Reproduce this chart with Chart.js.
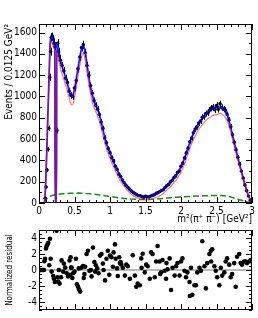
<!DOCTYPE html>
<html>
<head>
<meta charset="utf-8">
<script src="https://cdn.jsdelivr.net/npm/chart.js@4.4.1/dist/chart.umd.min.js"></script>
<style>
    html, body { margin: 0; padding: 0; background: #fff; }
    #wrap { position: relative; width: 258px; height: 318px; }
    canvas { position: absolute; left: 0; }
</style>
</head>
<body>
<div id="wrap">
    <canvas id="mainChart" width="258" height="226" style="top:0"></canvas>
    <canvas id="residChart" width="258" height="96" style="top:222px"></canvas>
</div>
<script>
// Data
const dataMass = [0.0875, 0.1, 0.1125, 0.125, 0.1375, 0.15, 0.1625, 0.175, 0.1875, 0.2, 0.2125, 0.225, 0.2525, 0.2625, 0.275, 0.2875, 0.3,
    0.325, 0.35, 0.375, 0.4, 0.425, 0.45, 0.475, 0.5, 0.525, 0.55, 0.575, 0.6, 0.625, 0.65, 0.675, 0.7, 0.725, 0.75, 0.775, 0.8,
    0.825, 0.85, 0.875, 0.9, 0.925, 0.95, 0.975, 1.0, 1.025, 1.05, 1.075, 1.1, 1.125, 1.15, 1.175, 1.2, 1.225, 1.25, 1.275, 1.3,
    1.325, 1.35, 1.375, 1.4, 1.425, 1.45, 1.475, 1.5, 1.525, 1.55, 1.575, 1.6, 1.625, 1.65, 1.675, 1.7, 1.725, 1.75, 1.775, 1.8,
    1.825, 1.85, 1.875, 1.9, 1.925, 1.95, 1.975, 2.0, 2.025, 2.05, 2.075, 2.1, 2.125, 2.15, 2.175, 2.2, 2.225, 2.25, 2.275, 2.3,
    2.325, 2.35, 2.375, 2.4, 2.425, 2.45, 2.475, 2.5, 2.525, 2.55, 2.575, 2.6, 2.625, 2.65, 2.675, 2.7, 2.725, 2.75, 2.775, 2.8,
    2.825, 2.85, 2.875, 2.9, 2.925, 2.95, 2.975];
const dataEvents = [45, 150, 310, 505, 700, 1180, 1420, 1555, 1560, 1540, 1500, 1470, 680, 1500, 1420, 1380, 1340,
    1290, 1240, 1170, 1130, 1050, 1010, 1000, 1080, 1150, 1260, 1370, 1460, 1485, 1410, 1290, 1200, 1100, 1030, 960, 915,
    880, 830, 760, 700, 610, 565, 510, 470, 425, 395, 345, 315, 270, 248, 215, 190, 165, 148, 130, 112,
    100, 88, 80, 70, 68, 60, 55, 62, 58, 57, 66, 72, 78, 90, 96, 108, 118, 125, 145, 162,
    175, 198, 212, 238, 255, 285, 300, 345, 375, 425, 470, 515, 575, 610, 660, 695, 715, 750, 770, 805,
    810, 840, 845, 870, 890, 900, 875, 915, 880, 930, 895, 880, 870, 830, 780, 715, 640, 570, 500, 430,
    365, 300, 235, 170, 115, 65, 25];

const fitMass = [0.075, 0.085, 0.1, 0.12, 0.14, 0.155, 0.165, 0.18, 0.195, 0.21, 0.224, 0.226, 0.247, 0.249, 0.27, 0.3,
    0.35, 0.4, 0.45, 0.47, 0.5, 0.55, 0.6, 0.62, 0.65, 0.68, 0.72, 0.76, 0.81, 0.855, 0.9, 0.95, 1.0,
    1.05, 1.1, 1.15, 1.2, 1.25, 1.3, 1.35, 1.4, 1.45, 1.5, 1.55, 1.6, 1.65, 1.7, 1.75, 1.8, 1.85, 1.9, 1.95, 2.0,
    2.05, 2.1, 2.15, 2.2, 2.25, 2.3, 2.35, 2.4, 2.45, 2.5, 2.55, 2.6, 2.65, 2.7, 2.75, 2.8, 2.85, 2.9, 2.95, 3.0];
const totalFit = [0, 60, 300, 720, 1150, 1470, 1565, 1560, 1540, 1510, 1490, 0, 0, 1500, 1440, 1340,
    1230, 1120, 1005, 1000, 1070, 1270, 1450, 1480, 1420, 1280, 1110, 990, 900, 820, 690, 560, 470,
    385, 310, 245, 190, 150, 115, 90, 72, 62, 58, 60, 70, 86, 105, 128, 160, 195, 235, 280, 340,
    420, 520, 615, 690, 745, 795, 835, 862, 882, 895, 900, 885, 830, 710, 570, 430, 300, 175, 70, 0];
const signalFit = [0, 55, 275, 680, 1100, 1420, 1515, 1505, 1480, 1450, 1425, 0, 0, 1430, 1370, 1270,
    1160, 1050, 930, 920, 990, 1195, 1375, 1405, 1345, 1210, 1045, 925, 840, 760, 635, 510, 420,
    340, 268, 205, 155, 115, 82, 60, 44, 35, 30, 31, 38, 52, 68, 90, 120, 152, 190, 232, 290,
    365, 465, 555, 630, 690, 735, 775, 800, 822, 830, 842, 822, 775, 662, 532, 402, 280, 164, 64, 0];
const bkgFit = [0, 5, 30, 50, 58, 63, 66, 68, 72, 75, 78, 78, 80, 80, 82, 84,
    87, 89, 91, 91, 92, 93, 92, 91, 90, 88, 86, 83, 79, 75, 71, 66, 61,
    56, 51, 47, 43, 40, 37, 35, 33, 32, 32, 33, 35, 37, 40, 43, 46, 49, 52, 55, 57,
    59, 61, 63, 65, 66, 67, 68, 69, 70, 70, 70, 68, 64, 56, 46, 36, 26, 16, 7, 0];

const resMass = [0.01, 0.025, 0.04, 0.055, 0.07, 0.075, 0.085, 0.098, 0.108, 0.12, 0.13, 0.145, 0.154, 0.164, 0.178,
    0.2, 0.21, 0.224, 0.248, 0.26, 0.27, 0.28, 0.29, 0.31, 0.318, 0.34, 0.35, 0.37, 0.39, 0.41, 0.43, 0.44, 0.445,
    0.45, 0.46, 0.47, 0.48, 0.5, 0.52, 0.535, 0.55, 0.56, 0.565, 0.58, 0.6, 0.62, 0.63, 0.64, 0.65, 0.67, 0.69,
    0.71, 0.73, 0.74, 0.76, 0.78, 0.79, 0.8, 0.82, 0.84, 0.86, 0.88, 0.9, 0.91, 0.93, 0.95, 0.97, 0.99, 1.0,
    1.02, 1.04, 1.05, 1.07, 1.08, 1.1, 1.11, 1.13, 1.14, 1.15, 1.16, 1.18, 1.21, 1.23, 1.25, 1.28, 1.32, 1.35,
    1.37, 1.39, 1.42, 1.44, 1.445, 1.46, 1.49, 1.51, 1.53, 1.56, 1.58, 1.6, 1.63, 1.65, 1.67, 1.7, 1.705, 1.72,
    1.74, 1.77, 1.79, 1.795, 1.81, 1.84, 1.86, 1.88, 1.91, 1.93, 1.95, 1.98, 2.0, 2.02, 2.05, 2.07, 2.09, 2.12,
    2.125, 2.14, 2.16, 2.19, 2.21, 2.23, 2.26, 2.28, 2.3, 2.33, 2.35, 2.37, 2.4, 2.42, 2.425, 2.44, 2.47, 2.49,
    2.51, 2.54, 2.56, 2.58, 2.61, 2.63, 2.65, 2.68, 2.7, 2.72, 2.75, 2.77, 2.79, 2.82, 2.84, 2.86, 2.89, 2.91,
    2.93, 2.96, 2.98];
const resValue = [0, 0, 0, 0, 0, 1.1, 1.4, 2.7, 3.0, 3.2, 3.4, 0.6, 3.9, 1.4, -0.2,
    -0.75, -1.1, -1.5, 4.9, -0.9, -1.45, 0.0, -1.7, -0.9, 1.2, -0.2, 0.8, 0.3, -0.4, -0.8, 1.2, -0.6, 1.6,
    0.3, 0.3, -1.0, -0.4, -0.2, 1.4, -1.8, -2.1, 0.2, -2.4, -2.7, 0.3, 0.5, -1.0, -0.5, 0.4, 2.0, 2.4,
    -0.1, 0.0, -0.8, 2.8, 1.0, -0.2, 0.6, 0.2, -0.4, 1.8, 2.0, 0.8, 0.0, -1.3, 1.4, 2.4, -0.6, 1.8,
    1.6, 0.4, 2.2, 3.2, 1.4, 0.2, -0.75, 1.6, 0.86, 1.0, 0.67, 0.27, -0.7, 0.67, 0.47, -1.1, 1.84, -0.7,
    -2.1, -1.7, -1.9, 1.45, 0.27, 2.04, -0.3, 0.67, 0.47, -1.1, 2.2, 2.0, -0.9, 1.06, 3.0, 1.06, -0.5, -0.3,
    1.25, -0.1, -1.1, 0.86, 0.08, 1.45, -2.5, 0.27, -0.7, 0.47, 0.86, -0.7, 1.06, 1.45, -0.1, -0.9, -0.3, -1.5,
    -3.25, 0.27, -3.1, -1.9, -1.9, -0.3, 0.27, -0.1, 3.6, 0.47, -2.3, 0.86, 2.0, 2.4, 1.06, 2.6, 0.47, -0.1,
    -0.9, -1.9, 0.27, -0.7, -0.3, 1.06, 1.45, 0.67, -0.9, -0.5, 0.86, -2.1, 1.65, 2.0, 0.86, 0.67, 1.06, 1.06,
    0.86, 1.06, 1.25];

// Tick label values
const eventTicks = [0, 200, 400, 600, 800, 1000, 1200, 1400, 1600];
const residTicks = [-4, -2, 0, 2, 4];
const massTicks = [0, 0.5, 1, 1.5, 2, 2.5, 3];

// Style
const FONT = "'Liberation Sans Narrow', 'DejaVu Sans Condensed', 'Liberation Sans', sans-serif";
const TICK_FONT = { family: FONT, size: 10 };

/**
 * Zip two arrays into {x, y} points
 */
function toPoints(xs, ys) {
    return xs.map((x, i) => ({ x: x, y: ys[i] }));
}

/**
 * Force the axis ticks to a fixed list of values
 */
function fixedTicks(values) {
    return (scale) => { scale.ticks = values.map(v => ({ value: v })); };
}

// Frame + ROOT style inward ticks on all four sides
const frameTicks = {
    id: 'frameTicks',
    afterDatasetsDraw(chart, args, opts) {
        const { ctx, chartArea: a } = chart;
        const x = chart.scales.x;
        const y = chart.scales.y;
        ctx.save();
        ctx.strokeStyle = '#000';
        ctx.lineWidth = 1;
        ctx.strokeRect(Math.round(a.left) + 0.5, Math.round(a.top) + 0.5,
            Math.round(a.right - a.left) - 1, Math.round(a.bottom - a.top) - 1);
        ctx.beginPath();
        const nx = Math.round((x.max - x.min) / opts.xMinor);
        for (let i = 0; i <= nx; i++) {
            const v = x.min + i * opts.xMinor;
            const px = Math.round(x.getPixelForValue(v)) + 0.5;
            const r = v / opts.xMajor;
            const len = Math.abs(r - Math.round(r)) < 1e-6 ? opts.majorLen : opts.minorLen;
            ctx.moveTo(px, a.bottom); ctx.lineTo(px, a.bottom - len);
            ctx.moveTo(px, a.top); ctx.lineTo(px, a.top + len);
        }
        const y0 = Math.ceil(y.min / opts.yMinor - 1e-6);
        const y1 = Math.floor(y.max / opts.yMinor + 1e-6);
        for (let k = y0; k <= y1; k++) {
            const v = k * opts.yMinor;
            const py = Math.round(y.getPixelForValue(v)) + 0.5;
            const r = v / opts.yMajor;
            const len = Math.abs(r - Math.round(r)) < 1e-6 ? opts.majorLen : opts.minorLen;
            ctx.moveTo(a.left, py); ctx.lineTo(a.left + len, py);
            ctx.moveTo(a.right, py); ctx.lineTo(a.right - len, py);
        }
        ctx.stroke();
        ctx.restore();
    }
};

// Poisson error bars on the data points
const errorBars = {
    id: 'errorBars',
    beforeDatasetDraw(chart, args) {
        const ds = chart.data.datasets[args.index];
        if (!ds.errorBars) return;
        const { ctx } = chart;
        const x = chart.scales.x;
        const y = chart.scales.y;
        ctx.save();
        ctx.strokeStyle = '#000';
        ctx.lineWidth = 1;
        ctx.beginPath();
        ds.data.forEach(p => {
            const err = Math.sqrt(p.y);
            const px = Math.round(x.getPixelForValue(p.x)) + 0.5;
            ctx.moveTo(px, y.getPixelForValue(p.y - err));
            ctx.lineTo(px, y.getPixelForValue(p.y + err));
        });
        ctx.stroke();
        ctx.restore();
    }
};

function buildMainChart() {
    const ctx = document.getElementById('mainChart').getContext('2d');
    return new Chart(ctx, {
        type: 'scatter',
        data: {
            datasets: [
                {
                    label: 'Background',
                    type: 'line',
                    data: toPoints(fitMass, bkgFit),
                    borderColor: '#1a8a1a',
                    borderWidth: 1.5,
                    borderDash: [6, 3],
                    pointRadius: 0,
                    fill: false,
                    order: 4
                },
                {
                    label: 'Data',
                    data: toPoints(dataMass, dataEvents),
                    backgroundColor: '#000',
                    borderColor: '#000',
                    pointRadius: 1.8,
                    borderWidth: 0,
                    errorBars: true,
                    order: 3
                },
                {
                    label: 'Total',
                    type: 'line',
                    data: toPoints(fitMass, totalFit),
                    borderColor: 'rgba(0, 0, 255, 0.85)',
                    borderWidth: 1.8,
                    pointRadius: 0,
                    fill: false,
                    cubicInterpolationMode: 'monotone',
                    order: 2
                },
                {
                    label: 'Signal',
                    type: 'line',
                    data: toPoints(fitMass, signalFit),
                    borderColor: 'rgba(255, 0, 0, 0.55)',
                    borderWidth: 1.2,
                    pointRadius: 0,
                    fill: false,
                    cubicInterpolationMode: 'monotone',
                    order: 1
                }
            ]
        },
        options: {
            responsive: false,
            animation: false,
            devicePixelRatio: 1,
            layout: { padding: { top: 24, right: 6, left: 0, bottom: 0 } },
            plugins: {
                legend: { display: false },
                tooltip: { enabled: false },
                frameTicks: { xMinor: 0.1, xMajor: 0.5, yMinor: 100, yMajor: 200, majorLen: 6, minorLen: 3 }
            },
            scales: {
                x: {
                    type: 'linear',
                    min: 0,
                    max: 3,
                    afterBuildTicks: fixedTicks(massTicks),
                    grid: { display: false, drawTicks: false },
                    border: { display: false },
                    ticks: { font: TICK_FONT, color: '#000', padding: 2, maxRotation: 0, callback: v => String(v) },
                    title: {
                        display: true,
                        text: 'm²(π⁺ π⁻) [GeV²]',
                        align: 'end',
                        color: '#000',
                        font: { family: FONT, size: 10 },
                        padding: { top: 0, bottom: 1 }
                    },
                    afterFit: (scale) => { scale.height = 23; }
                },
                y: {
                    min: 0,
                    max: 1680,
                    afterBuildTicks: fixedTicks(eventTicks),
                    grid: { display: false, drawTicks: false },
                    border: { display: false },
                    ticks: { font: TICK_FONT, color: '#000', padding: 2, callback: v => String(v) },
                    title: {
                        display: true,
                        text: 'Events / 0.0125 GeV²',
                        align: 'end',
                        color: '#000',
                        font: { family: FONT, size: 10 },
                        padding: { top: 3, bottom: 0 }
                    },
                    afterFit: (scale) => { scale.width = 39; }
                }
            }
        },
        plugins: [frameTicks, errorBars]
    });
}

function buildResidualChart() {
    const ctx = document.getElementById('residChart').getContext('2d');
    return new Chart(ctx, {
        type: 'scatter',
        data: {
            datasets: [
                {
                    label: 'Zero',
                    type: 'line',
                    data: [{ x: 0, y: 0 }, { x: 3, y: 0 }],
                    borderColor: '#777',
                    borderWidth: 1,
                    pointRadius: 0,
                    order: 2
                },
                {
                    label: 'Residual',
                    data: toPoints(resMass, resValue),
                    backgroundColor: '#000',
                    borderWidth: 0,
                    pointRadius: 2.3,
                    order: 1
                }
            ]
        },
        options: {
            responsive: false,
            animation: false,
            devicePixelRatio: 1,
            layout: { padding: { top: 8, right: 6, left: 0, bottom: 4 } },
            plugins: {
                legend: { display: false },
                tooltip: { enabled: false },
                frameTicks: { xMinor: 0.1, xMajor: 0.5, yMinor: 0.5, yMajor: 2, majorLen: 6, minorLen: 3 }
            },
            scales: {
                x: {
                    type: 'linear',
                    min: 0,
                    max: 3,
                    display: false
                },
                y: {
                    min: -5,
                    max: 5,
                    afterBuildTicks: fixedTicks(residTicks),
                    grid: { display: false, drawTicks: false },
                    border: { display: false },
                    ticks: { font: TICK_FONT, color: '#000', padding: 2, callback: v => String(v) },
                    title: {
                        display: true,
                        text: 'Normalized residual',
                        color: '#000',
                        font: { family: FONT, size: 8 },
                        padding: { top: 5, bottom: 0 }
                    },
                    afterFit: (scale) => { scale.width = 39; }
                }
            }
        },
        plugins: [frameTicks]
    });
}

document.addEventListener('DOMContentLoaded', () => {
    buildMainChart();
    buildResidualChart();
});
</script>
</body>
</html>
